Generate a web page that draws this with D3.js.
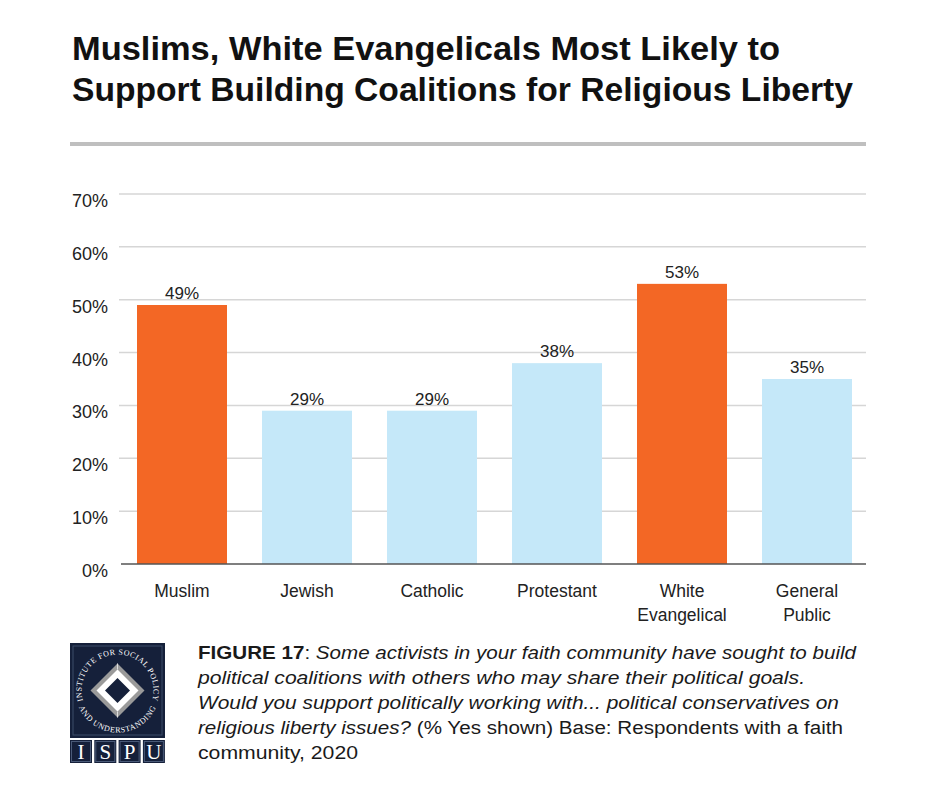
<!DOCTYPE html>
<html>
<head>
<meta charset="utf-8">
<script src="https://cdn.jsdelivr.net/npm/d3@7/dist/d3.min.js"></script>
<style>
  html, body { margin: 0; padding: 0; background: #fff; }
  svg { display: block; }
</style>
</head>
<body>
<svg id="chart" width="941" height="789"></svg>
<script>
// ---- data ----
const categories = ["Muslim", "Jewish", "Catholic", "Protestant", "White Evangelical", "General Public"];
const values = [49, 29, 29, 38, 53, 35];
const highlighted = ["Muslim", "White Evangelical"];
const yTicks = [0, 10, 20, 30, 40, 50, 60, 70];
const titleLines = ["Muslims, White Evangelicals Most Likely to", "Support Building Coalitions for Religious Liberty"];
const captionLines = [
  [["FIGURE 17", "normal", "bold"], [": ", "normal", "normal"], ["Some activists in your faith community have sought to build", "italic", "normal"]],
  [["political coalitions with others who may share their political goals.", "italic", "normal"]],
  [["Would you support politically working with... political conservatives on", "italic", "normal"]],
  [["religious liberty issues?", "italic", "normal"], [" (% Yes shown) Base: Respondents with a faith", "normal", "normal"]],
  [["community, 2020", "normal", "normal"]]
];
const captionWidths = [658, 607, 641, 645, 160];
const titleWidths = [708, 781];

// ---- layout ----
const svg = d3.select("#chart");
const FONT = "'Liberation Sans', Arial, sans-serif";
const ORANGE = "#f36725";
const BLUE = "#c5e8f9";
const NAVY = "#15203a";

const x = d3.scaleBand().domain(categories).range([119.5, 869.5]).paddingInner(0.28).paddingOuter(0.14);
const y = d3.scaleLinear().domain([0, 70]).range([564, 194]);

// title
titleLines.forEach((t, i) => {
  svg.append("text")
    .attr("x", 72).attr("y", 60 + i * 41)
    .attr("font-family", FONT).attr("font-weight", "bold").attr("font-size", 34)
    .attr("fill", "#111")
    .attr("textLength", titleWidths[i]).attr("lengthAdjust", "spacingAndGlyphs")
    .text(t);
});
svg.append("rect").attr("x", 70).attr("y", 142).attr("width", 796).attr("height", 4).attr("fill", "#bfbfbf");

// gridlines
svg.append("g").selectAll("line").data(yTicks.filter(d => d > 0)).join("line")
  .attr("x1", 119).attr("x2", 866)
  .attr("y1", d => y(d)).attr("y2", d => y(d))
  .attr("stroke", "#d6d6d6").attr("stroke-width", 1.5);

// y tick labels
svg.append("g").selectAll("text").data(yTicks).join("text")
  .attr("x", 108).attr("y", d => y(d) + 13)
  .attr("text-anchor", "end")
  .attr("font-family", FONT).attr("font-size", 18).attr("fill", "#222")
  .text(d => d + "%");

// bars
svg.append("g").selectAll("rect").data(categories).join("rect")
  .attr("x", d => x(d))
  .attr("width", x.bandwidth())
  .attr("y", (d, i) => y(values[i]))
  .attr("height", (d, i) => y(0) - y(values[i]))
  .attr("fill", d => highlighted.includes(d) ? ORANGE : BLUE);

// zero line
svg.append("line").attr("x1", 121).attr("x2", 866).attr("y1", y(0)).attr("y2", y(0))
  .attr("stroke", "#555").attr("stroke-width", 1.5);

// value labels
svg.append("g").selectAll("text").data(categories).join("text")
  .attr("x", d => x(d) + x.bandwidth() / 2)
  .attr("y", (d, i) => y(values[i]) - 6)
  .attr("text-anchor", "middle")
  .attr("font-family", FONT).attr("font-size", 17).attr("fill", "#222")
  .text((d, i) => values[i] + "%");

// x labels
const xl = svg.append("g").selectAll("text").data(categories).join("text")
  .attr("x", d => x(d) + x.bandwidth() / 2)
  .attr("y", 597)
  .attr("text-anchor", "middle")
  .attr("font-family", FONT).attr("font-size", 17.5).attr("fill", "#222");
xl.each(function(d) {
  const cx = x(d) + x.bandwidth() / 2;
  d.split(" ").forEach((w, i) => {
    d3.select(this).append("tspan").attr("x", cx).attr("dy", i === 0 ? 0 : 24).text(w);
  });
});

// caption
captionLines.forEach((segs, i) => {
  const t = svg.append("text")
    .attr("x", 198).attr("y", 659 + i * 25)
    .attr("font-family", FONT).attr("font-size", 18).attr("fill", "#1a1a1a");
  segs.forEach(s => t.append("tspan").attr("font-style", s[1]).attr("font-weight", s[2]).text(s[0]));
  t.attr("textLength", captionWidths[i]).attr("lengthAdjust", "spacingAndGlyphs");
});

// ---- logo ----
const logo = svg.append("g");
logo.append("rect").attr("x", 70).attr("y", 643).attr("width", 95).attr("height", 95).attr("fill", NAVY);
logo.append("rect").attr("x", 73).attr("y", 646).attr("width", 89).attr("height", 89)
  .attr("fill", "none").attr("stroke", "#3d4c69").attr("stroke-width", 1);
const cx = 117.5, cy = 690.5;
const dia = r => `M${cx},${cy - r}L${cx + r},${cy}L${cx},${cy + r}L${cx - r},${cy}Z`;
logo.append("path").attr("d", dia(27)).attr("fill", "#9a9a9a");
logo.append("path").attr("d", dia(21)).attr("fill", "#ffffff");
logo.append("path").attr("d", dia(12.5)).attr("fill", NAVY);
logo.append("line").attr("x1", cx).attr("x2", cx).attr("y1", cy - 27).attr("y2", cy - 21).attr("stroke", "#ddd").attr("stroke-width", 1);
logo.append("line").attr("x1", cx).attr("x2", cx).attr("y1", cy + 21).attr("y2", cy + 27).attr("stroke", "#ddd").attr("stroke-width", 1);

const R = 36;
const a0 = 205 * Math.PI / 180, a1 = 335 * Math.PI / 180;
const px = a => cx + R * Math.cos(a), py = a => cy - R * Math.sin(a);
const defs = svg.append("defs");
defs.append("path").attr("id", "arcTop")
  .attr("d", `M${px(a0)},${py(a0)} A${R},${R} 0 1 1 ${px(a1)},${py(a1)}`);
const Rb = 42;
const pxb = a => cx + Rb * Math.cos(a), pyb = a => cy - Rb * Math.sin(a);
const b0 = 165 * Math.PI / 180, b1 = 15 * Math.PI / 180;
defs.append("path").attr("id", "arcBot")
  .attr("d", `M${pxb(b0)},${pyb(b0)} A${Rb},${Rb} 0 1 0 ${pxb(b1)},${pyb(b1)}`);
logo.append("text").attr("font-family", "'Liberation Serif', serif").attr("font-size", 8)
  .attr("fill", "#fff").attr("letter-spacing", 0.5)
  .append("textPath").attr("href", "#arcTop").attr("startOffset", "50%").attr("text-anchor", "middle")
  .text("INSTITUTE FOR SOCIAL POLICY");
logo.append("text").attr("font-family", "'Liberation Serif', serif").attr("font-size", 8)
  .attr("fill", "#fff").attr("letter-spacing", 0.6)
  .append("textPath").attr("href", "#arcBot").attr("startOffset", "50%").attr("text-anchor", "middle")
  .text("AND UNDERSTANDING");

const letters = ["I", "S", "P", "U"];
letters.forEach((l, i) => {
  const bx = 70 + i * 24.3;
  logo.append("rect").attr("x", bx).attr("y", 740).attr("width", 22).attr("height", 23).attr("fill", NAVY);
  logo.append("rect").attr("x", bx + 1.5).attr("y", 741.5).attr("width", 19).attr("height", 20)
    .attr("fill", "none").attr("stroke", "#4a5a78").attr("stroke-width", 1);
  logo.append("text").attr("x", bx + 11).attr("y", 759).attr("text-anchor", "middle")
    .attr("font-family", "'Liberation Serif', serif").attr("font-size", 21).attr("fill", "#fff").text(l);
});
</script>
</body>
</html>
